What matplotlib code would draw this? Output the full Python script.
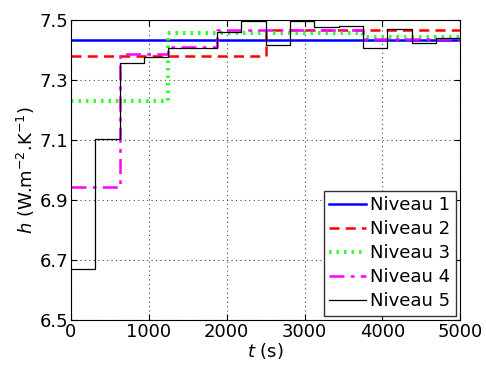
import matplotlib
matplotlib.use('Agg')
import matplotlib.pyplot as plt
import numpy as np

# Step data: t (s) breakpoints and h values
t1 = [0, 5000]
h1 = [7.432, 7.432]

t2 = [0, 2500, 5000]
h2 = [7.38, 7.468, 7.468]

t3 = [0, 1250, 3750, 5000]
h3 = [7.23, 7.457, 7.443, 7.443]

t4 = [0, 625, 1250, 1875, 3750, 5000]
h4 = [6.945, 7.385, 7.41, 7.465, 7.435, 7.435]

t5 = [0, 312.5, 625, 937.5, 1250, 1875, 2187.5, 2500, 2812.5, 3125,
      3437.5, 3750, 4062.5, 4375, 4687.5, 5000]
h5 = [6.67, 7.105, 7.355, 7.375, 7.407, 7.459, 7.498, 7.417, 7.497, 7.476,
      7.481, 7.407, 7.469, 7.422, 7.441, 7.441]

labels = ['Niveau 1', 'Niveau 2', 'Niveau 3', 'Niveau 4', 'Niveau 5']


def main():
    plt.rcParams['font.family'] = 'DejaVu Sans'
    plt.rcParams['mathtext.fontset'] = 'dejavusans'

    fig = plt.figure(figsize=(4.86, 3.7), dpi=100)
    ax = fig.add_axes([0.146, 0.135, 0.801, 0.811])

    # Plot
    ax.step(t1, h1, where='post', color='#0000ff', lw=1.8, label=labels[0])
    ax.step(t2, h2, where='post', color='#ff0000', lw=1.8,
            dashes=(4, 2.5), label=labels[1])
    ax.step(t3, h3, where='post', color='#33ff33', lw=3.0,
            dashes=(0.6, 1.2), label=labels[2])
    ax.step(t4, h4, where='post', color='#ff00ff', lw=1.8,
            dashes=(6, 2.5, 1.5, 2.5), label=labels[3])
    ax.step(t5, h5, where='post', color='black', lw=0.9, label=labels[4])

    ax.grid(True, linestyle=(0, (1, 3)), color='#444444', lw=0.8)
    ax.legend(loc='lower right', fontsize=13, fancybox=False,
              edgecolor='#333333', framealpha=1, handlelength=2.05,
              borderaxespad=0.25, labelspacing=0.33, handletextpad=0.22,
              borderpad=0.3)

    # Y axis
    ax.set_ylim(6.5, 7.5)
    ax.set_yticks(np.arange(6.5, 7.51, 0.2))
    ax.set_yticklabels(['6.5', '6.7', '6.9', '7.1', '7.3', '7.5'])
    ax.set_ylabel(r'$h$ (W.m$^{-2}$.K$^{-1}$)', fontsize=13, labelpad=2)

    # X axis
    ax.set_xlim(0, 5000)
    ax.set_xticks(np.arange(0, 5001, 1000))
    ax.set_xlabel(r'$t$ (s)', fontsize=13, labelpad=0)

    ax.tick_params(direction='in', labelsize=13, length=4, top=True, right=True, pad=2)
    for s in ax.spines.values():
        s.set_linewidth(0.8)

    fig.savefig('out.png', dpi=100)


if __name__ == '__main__':
    main()
